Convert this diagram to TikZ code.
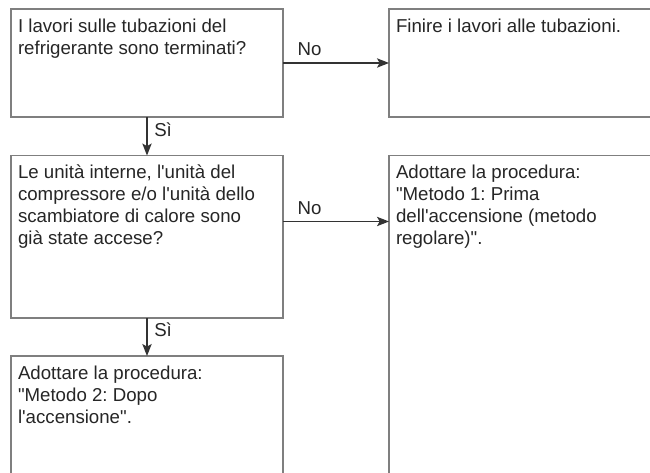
\documentclass[tikz,border=0pt]{standalone}
\usepackage{fontspec}
\newfontfamily\diagfont{Liberation Sans}
\usepackage{tikz}
\usetikzlibrary{arrows.meta}
\frenchspacing

\definecolor{boxline}{HTML}{7F7F7F}
\definecolor{linkcol}{HTML}{333333}
\definecolor{txtcol}{HTML}{262626}
% text of a box: fixed height, top aligned
\newcommand{\boxtxt}[3]{\parbox[t][#1][t]{#2}{\raggedright\rule{0pt}{17.6pt}#3}}

\begin{document}
\begin{tikzpicture}[
  x=0.75pt, y=-0.75pt,
  font={\diagfont\fontsize{14pt}{16.5pt}\selectfont},
  box/.style={draw=boxline, line width=1pt, anchor=north west,
              inner xsep=5.25pt, inner ysep=0pt, outer sep=0pt, text=txtcol},
  lbl/.style={text=txtcol, inner sep=5pt},
  link/.style={->, draw=linkcol, line width=0.9pt},
  >={Stealth[length=9pt, width=7pt, inset=2pt]}
]
  \useasboundingbox (0,0) rectangle (650,473);
  \fill[white] (0,0) rectangle (650,473);
  \clip (0,0) rectangle (650,473);
  % Questions (left column)
  \node[box] (q1) at (11,9)     {\boxtxt{81pt}{193.5pt}{I lavori sulle tubazioni del\\refrigerante sono terminati?}};
  \node[box] (q2) at (11,155.5) {\boxtxt{121.9pt}{193.5pt}{Le unità interne, l'unità del\\compressore e/o l'unità dello\\scambiatore di calore sono\\già state accese?}};
  \node[box] (a3) at (11,356)   {\boxtxt{105pt}{193.5pt}{Adottare la procedura:\\"Metodo 2: Dopo\\l'accensione".}};
  % Actions (right column, cut by the page edge)
  \node[box] (a1) at (389,9)     {\boxtxt{81pt}{225pt}{Finire i lavori alle tubazioni.}};
  \node[box] (a2) at (389,155.5) {\boxtxt{255pt}{225pt}{Adottare la procedura:\\"Metodo 1: Prima\\dell'accensione (metodo\\regolare)".}};
  % Connections
  \coordinate (r2) at ([yshift=-49.5pt]q2.north east);
  \draw[link] (q1.east)  -- (a1.west)      node[lbl, pos=0.25, above] {No};
  \draw[link] (q1.south) -- (q2.north)     node[lbl, pos=0.32, right] {Sì};
  \draw[link] (r2)       -- (r2 -| a2.west) node[lbl, pos=0.25, above] {No};
  \draw[link] (q2.south) -- (a3.north)     node[lbl, pos=0.32, right] {Sì};
\end{tikzpicture}
\end{document}
